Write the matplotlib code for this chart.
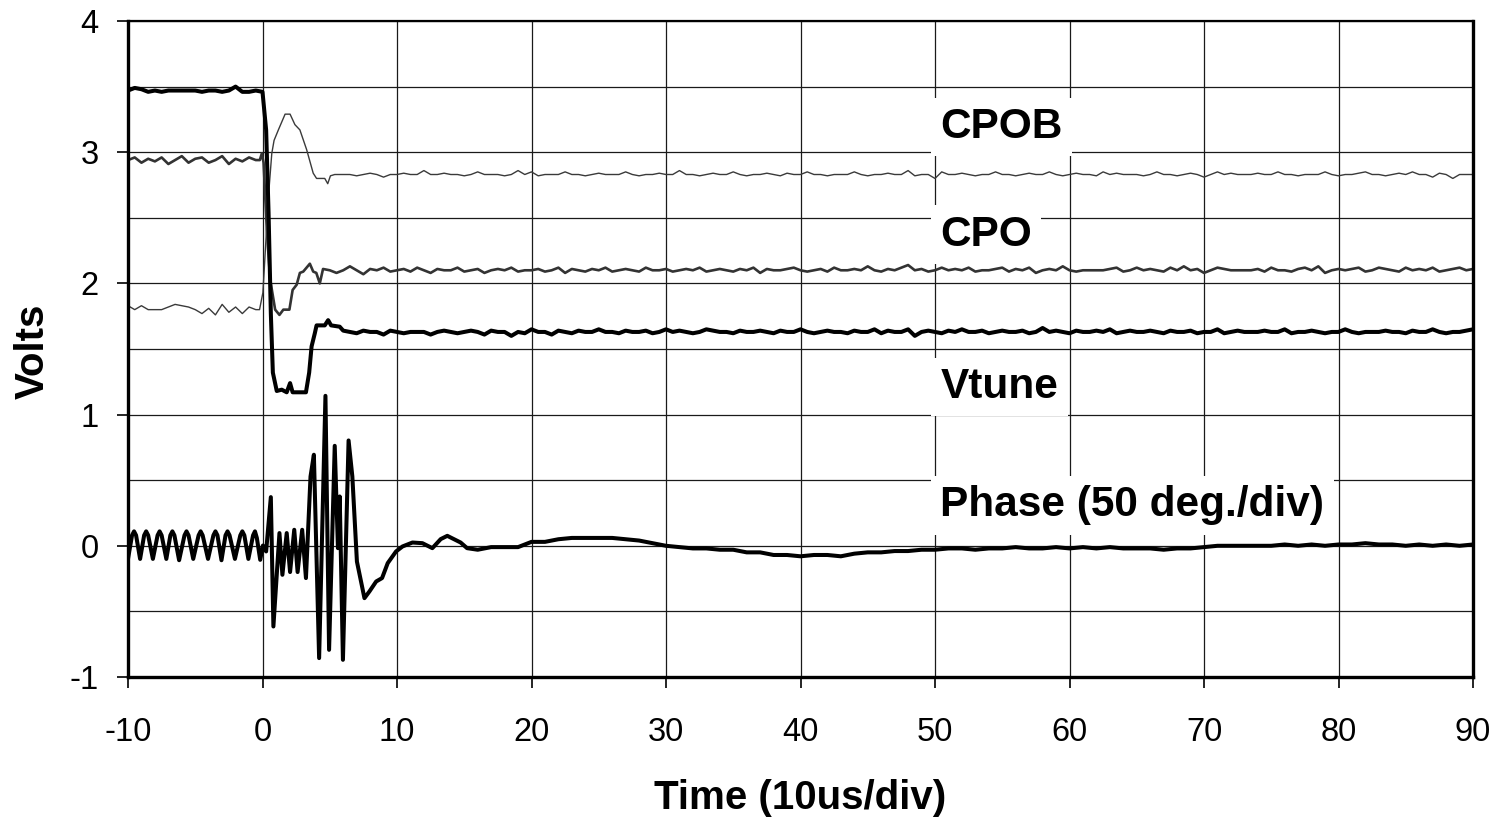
import numpy as np
import matplotlib
matplotlib.use('Agg')
import matplotlib.pyplot as plt
from matplotlib.ticker import MultipleLocator

plt.rcParams['font.family'] = ['Liberation Sans', 'DejaVu Sans']

# ---- data ----
# before the step (t = -10 .. -0.5, every 0.5), offsets in 1/100 V
t_pre = [-10.0 + 0.5 * i for i in range(20)]
cpob_pre_base = 1.80
cpob_pre = [3, 0, 3, 0, 0, 0, 2, 4, 3, 2, 0, -3, 1, -4, 4, -2, 2, -3, 2, 0]
cpo_pre_base = 2.94
cpo_pre = [0, 2, -2, 1, -1, 2, -3, 0, 3, -2, 1, 2, -2, 0, 3, -3, 1, -1, 2, 0]
vtune_pre_base = 3.47
vtune_pre = [0, 2, 1, -1, 0, -1, 0, 0, 0, 0, 0, -1, 0, 0, -1, 0, 3, -1, -1, 0]

# the step itself
cpob_step_t = [-0.22, 0.03, 0.2, 0.44, 0.69, 0.86, 1.18, 1.68, 2.05, 2.41, 2.78,
               3.28, 3.77, 4.02, 4.63, 4.85, 5.05, 5.37]
cpob_step_v = [1.80, 1.93, 2.23, 2.66, 2.99, 3.09, 3.17, 3.29, 3.29, 3.21, 3.17,
               3.02, 2.84, 2.80, 2.80, 2.76, 2.82, 2.83]
cpo_step_t = [-0.2, -0.05, 0.08, 0.32, 0.57, 0.94, 1.26, 1.55, 2.0, 2.24, 2.54,
              2.78, 3.03, 3.52, 3.77, 4.0, 4.26, 4.5, 5.0, 5.5]
cpo_step_v = [2.94, 2.99, 2.92, 2.41, 2.03, 1.80, 1.76, 1.80, 1.80, 1.95, 1.99,
              2.08, 2.09, 2.15, 2.09, 2.08, 2.00, 2.11, 2.10, 2.08]
vtune_step_t = [0.0, 0.27, 0.45, 0.62, 0.77, 1.06, 1.43, 1.8, 2.05, 2.24, 2.54,
                3.23, 3.47, 3.65, 3.89, 4.02, 4.63, 4.88, 5.1, 5.74]
vtune_step_v = [3.46, 3.17, 2.54, 1.77, 1.32, 1.18, 1.19, 1.17, 1.24, 1.17, 1.17,
                1.17, 1.32, 1.52, 1.62, 1.68, 1.68, 1.72, 1.68, 1.67]

# settled part (t = 6 .. 90, every 0.5), offsets in 1/100 V
cpob_base = 2.83
cpob_noise = [0, 0, -1, 0, 1, 0, -2, 0, 0, 1, 0, 0, 3, 0, 0, 1, 0, 0, -1, 0,
              2, 0, 0, 0, -1, 0, 3, 0, 2, -1, 0, 0, 0, 2, 0, 0, -1, 0, 1, 0,
              0, 0, 2, 0, -1, 0, 0, 1, 0, 0, 3, 0, 0, -1, 0, 1, 0, 0, 2, 0,
              -1, 0, 0, 1, 0, -1, 1, 0, 0, 2, 0, 0, -1, 0, 0, 0, 2, 0, -1, 0,
              0, 1, 0, 0, 3, -1, 0, 0, -3, 2, 0, 0, 1, 0, -1, 0, 0, 2, 0, 0,
              -1, 0, 1, 0, 0, 2, 0, -1, 0, 1, 0, 0, -1, 2, 0, 1, 0, 0, 0, -1,
              0, 2, 0, 0, -1, 0, 1, 0, -2, 0, 2, 0, 1, 0, 0, 0, 1, 0, 0, 2,
              0, 0, -1, 0, 0, 0, 2, 0, -1, 0, 0, 1, 2, 0, 0, -1, 0, 1, 0, 2,
              0, 0, -2, 1, 0, -3, 0, 0, 0]
cpo_base = 2.10
cpo_noise = [0, 3, 0, -3, 1, 0, 2, -1, 0, 1, -1, 2, 0, -2, 1, 0, 0, 2, -1, 0,
             1, -2, 0, 1, 0, 2, -1, 0, 0, 1, -1, 0, 2, -2, 1, 0, -1, 1, 0, 2,
             -1, 0, 1, 0, -1, 2, 0, 0, 1, -1, 0, 1, 0, 2, -1, 0, 1, 0, -1, 1,
             0, 2, -2, 1, 0, 0, 1, 2, 0, -1, 0, 1, -1, 2, 0, 0, 1, 0, 3, 0,
             -1, 1, 0, 2, 4, 0, 1, -1, 0, 2, 0, 1, 0, 2, -1, 0, 0, 1, 2, -1,
             1, 0, 2, -2, 0, 1, 0, 3, 0, -1, 0, 0, 0, 0, 1, 2, -1, 0, 2, 0,
             1, 0, -1, 2, 0, 3, 0, 1, -2, 0, 2, 1, 0, 0, 0, 0, 1, -1, 2, 0,
             0, -1, 1, 2, 0, 3, -2, 0, 1, 0, 1, 2, -1, 0, 2, 1, 0, -1, 2, 0,
             1, 0, 2, -1, 0, 1, 2, 0, 1]
vtune_base = 1.63
vtune_noise = [1, 0, -1, 1, 0, 0, -2, 1, 0, -1, 0, 0, 0, -2, 0, 1, 0, -1, 0, 1,
               0, -2, 1, 0, 0, -3, 0, -1, 2, 0, 0, -2, 1, 0, -1, 1, 0, 0, 2, 0,
               0, -1, 1, 0, 0, 1, -1, 0, 2, 0, 1, 0, -1, 0, 2, 1, 0, 0, -1, 1,
               0, 0, 1, 0, -1, 1, 0, 0, 2, 0, -1, 0, 1, 0, 0, -1, 1, 0, 0, 2,
               -1, 1, 0, 0, 2, -3, 0, 1, 0, -1, 1, 0, 2, 0, 0, 1, -1, 0, 1, 0,
               0, 1, -1, 0, 3, 0, 1, 0, -1, 1, 0, 0, 1, 0, 2, -1, 0, 1, 0, 0,
               1, 0, -1, 1, 0, 0, 1, -1, 0, 0, 2, -1, 0, 1, 0, 0, 0, 1, 0, 0,
               2, -1, 0, 0, 1, 0, -1, 0, 0, 2, 0, -1, 0, 0, 0, 1, 0, 0, -1, 1,
               0, 0, 2, 0, -1, 0, 0, 1, 2]

# phase detector output (50 deg/div): ringing before the step, rounded tops
phase_pre_t = [-10, -9.7, -9.55, -9.4, -9.1, -8.8, -8.65, -8.5, -8.15, -7.8, -7.65, -7.5,
               -7.15, -6.85, -6.7, -6.55, -6.2, -5.8, -5.65, -5.5, -5.15, -4.75, -4.6, -4.45,
               -4.05, -3.65, -3.5, -3.35, -3.05, -2.75, -2.6, -2.45, -2.05, -1.65, -1.5, -1.35,
               -1.05, -0.7, -0.56, -0.42]
phase_pre_v = [-0.1, 0.08, 0.11, 0.08, -0.1, 0.08, 0.11, 0.08, -0.1, 0.08, 0.11, 0.08,
               -0.1, 0.08, 0.11, 0.08, -0.11, 0.08, 0.11, 0.08, -0.1, 0.08, 0.11, 0.08,
               -0.1, 0.08, 0.11, 0.08, -0.11, 0.08, 0.11, 0.08, -0.1, 0.08, 0.11, 0.08,
               -0.1, 0.08, 0.11, 0.06]
phase_step_t = [-0.17, 0.03, 0.27, 0.62, 0.81, 1.26, 1.48, 1.80, 2.05, 2.36,
                2.61, 2.95, 3.23, 3.57, 3.82, 4.21, 4.68, 4.95, 5.37, 5.61,
                5.74, 5.98, 6.40, 6.68, 7.02, 7.58, 7.95, 8.45, 8.89, 9.31,
                9.93, 10.41, 11.15, 11.89, 12.63, 13.25, 13.74, 14.73, 15.21]
phase_step_v = [-0.107, 0.002, -0.043, 0.371, -0.615, 0.097, -0.221, 0.097, -0.2, 0.122,
                -0.2, 0.122, -0.246, 0.528, 0.694, -0.856, 1.143, -0.793, 0.762, -0.018,
                0.376, -0.869, 0.803, 0.528, -0.12, -0.399, -0.348, -0.272, -0.246, -0.132,
                -0.043, -0.005, 0.025, 0.02, -0.018, 0.051, 0.076, 0.025, -0.018]
# t = 16 .. 90, every 1, in 1/100
phase_late = [-3, -1, -1, -1, 3, 3, 5, 6, 6, 6, 6, 5, 4, 2, 0, -1, -2, -2, -3, -3,
              -5, -5, -7, -7, -8, -7, -7, -8, -6, -5, -5, -4, -4, -3, -3, -2, -2, -3, -2, -2,
              -1, -2, -2, -1, -2, -1, -2, -1, -2, -2, -2, -3, -2, -2, -1, 0, 0, 0, 0, 0,
              1, 0, 1, 0, 1, 1, 2, 1, 1, 0, 1, 0, 1, 0, 1]

labels = ['CPOB', 'CPO', 'Vtune', 'Phase (50 deg./div)']
label_y = [3.107, 2.287, 1.126, 0.225]


def build(pre_base, pre, step_t, step_v, base, noise):
    t = list(t_pre) + list(step_t) + [6.0 + 0.5 * i for i in range(len(noise))]
    v = [pre_base + n / 100 for n in pre] + list(step_v) + [base + n / 100 for n in noise]
    return np.array(t), np.array(v)


t_cpob, v_cpob = build(cpob_pre_base, cpob_pre, cpob_step_t, cpob_step_v, cpob_base, cpob_noise)
t_cpo, v_cpo = build(cpo_pre_base, cpo_pre, cpo_step_t, cpo_step_v, cpo_base, cpo_noise)
t_vt, v_vt = build(vtune_pre_base, vtune_pre, vtune_step_t, vtune_step_v, vtune_base, vtune_noise)
t_ph = np.array(phase_pre_t + phase_step_t + [16.0 + i for i in range(len(phase_late))])
v_ph = np.array(phase_pre_v + phase_step_v + [n / 100 for n in phase_late])

# ---- plot ----
fig = plt.figure(figsize=(14.97, 8.21), dpi=100)
ax = fig.add_axes([128 / 1497, 1 - 677 / 821, 1345 / 1497, 656 / 821])

ax.plot(t_cpob, v_cpob, color='#3a3a3a', lw=1.0, zorder=2)
ax.plot(t_cpo, v_cpo, color='#333333', lw=1.9, zorder=2)
ax.plot(t_vt, v_vt, color='black', lw=2.9, zorder=2, solid_joinstyle='round')
ax.plot(t_ph, v_ph, color='black', lw=2.9, zorder=2, solid_joinstyle='round')

ax.set_xlim(-10, 90)
ax.set_ylim(-1, 4)
ax.xaxis.set_major_locator(MultipleLocator(10))
ax.yaxis.set_major_locator(MultipleLocator(1))
ax.yaxis.set_minor_locator(MultipleLocator(0.5))
ax.grid(True, which='both', color='#1a1a1a', lw=0.9)
ax.set_axisbelow(True)
ax.tick_params(which='major', direction='out', length=8, width=1.2, labelsize=23.5)
ax.tick_params(axis='x', pad=21)
ax.tick_params(axis='y', pad=13)
ax.tick_params(which='minor', length=0)
ax.set_xticklabels([str(int(v)) for v in ax.get_xticks()])
ax.set_yticklabels([str(int(v)) for v in ax.get_yticks()])

for side in ['left', 'bottom', 'right']:
    ax.spines[side].set_linewidth(2.4)
ax.spines['top'].set_linewidth(1.6)

for txt, y in zip(labels, label_y):
    ax.text(50.4, y, txt, fontsize=30.5, fontweight='bold', ha='left', va='baseline',
            zorder=3, bbox=dict(boxstyle='square,pad=0.22', facecolor='white', edgecolor='none'))

ax.set_xlabel('Time (10us/div)', fontsize=29, fontweight='bold')
ax.set_ylabel('Volts', fontsize=29, fontweight='bold')
ax.xaxis.set_label_coords(0.5, -0.185)
ax.xaxis.label.set_verticalalignment('center')
ax.yaxis.set_label_coords(-0.071, 0.496)
ax.yaxis.label.set_verticalalignment('center')

plt.savefig('out.png', dpi=100)
